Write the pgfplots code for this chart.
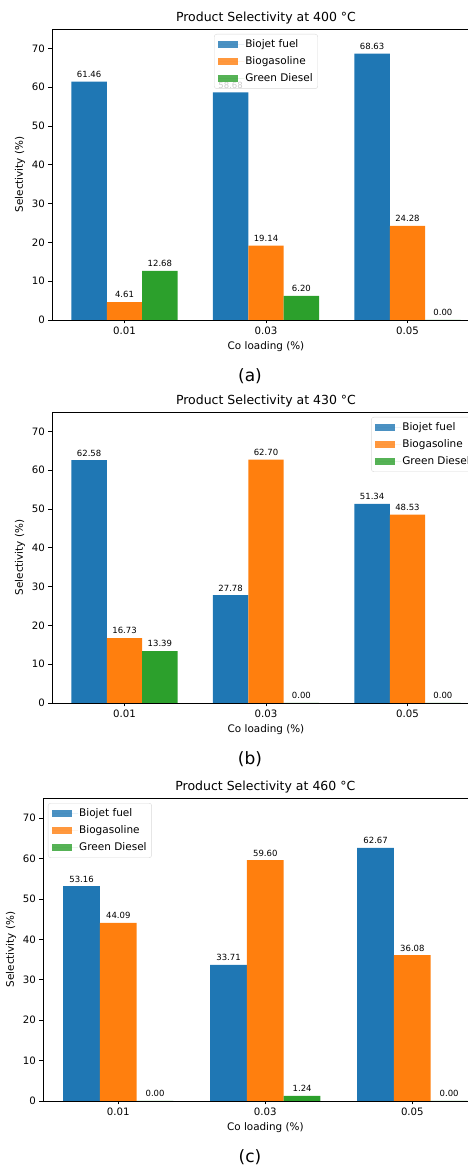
\documentclass[border=0pt]{standalone}
\usepackage{pgfplots}
\pgfplotsset{compat=1.18}
\usepackage{fontspec}
\setmainfont{DejaVu Sans}
\definecolor{c1}{HTML}{1F77B4}
\definecolor{c2}{HTML}{FF7F0E}
\definecolor{c3}{HTML}{2CA02C}

\pgfplotsset{
 selstyle/.style={
  scale only axis, width=428pt, height=291pt,
  xmin=-0.5125, xmax=2.5125, ymin=0, ymax=75,
  ybar, bar width=0.25,
  xtick={0,1,2}, xticklabels={0.01,0.03,0.05},
  ytick={0,10,...,70},
  tick align=outside, tick pos=left, major tick length=3.5pt,
  tick style={black, line width=0.8pt},
  axis line style={line width=0.8pt},
  /pgf/number format/assume math mode=true,
  ticklabel style={font=\fontsize{10.2}{12}\selectfont},
  label style={font=\fontsize{10.4}{12}\selectfont},
  title style={font=\fontsize{12.5}{14}\selectfont, yshift=-4.5pt},
  xlabel={Co loading (\%)}, ylabel={Selectivity (\%)},
  nodes near coords={\pgfmathprintnumber[fixed,fixed zerofill,precision=2]{\pgfplotspointmeta}},
  every node near coord/.append style={font=\fontsize{8.5}{10}\selectfont, black, yshift=0.5pt},
  legend image code/.code={\fill[##1, sharp corners] (0pt,-3.6pt) rectangle (20pt,3.6pt);
     \path (0pt,0pt) -- (26pt,0pt);},
  legend cell align=left,
  legend style={font=\fontsize{10.5}{12}\selectfont, draw=black!15, rounded corners=2.5pt,
    fill=white, fill opacity=0.8, text opacity=1, draw opacity=1,
    inner xsep=4pt, inner ysep=4pt, row sep=4.5pt,
    nodes={inner sep=1pt, text height=8pt, text depth=2.5pt}},
 }
}

\begin{document}
\begin{tikzpicture}
\clip (0pt,0pt) rectangle (468pt,1169pt);

% ---------- (a) 400 C ----------
\begin{axis}[selstyle, at={(52pt,849pt)}, anchor=south west,
  title={Product Selectivity at 400 °C},
  legend style={at={(0.5,1)}, anchor=north, yshift=-5pt}]
\addplot[fill=c1, draw=none, bar shift=-0.25] coordinates {(0,61.46) (1,58.68) (2,68.63)};
\addplot[fill=c2, draw=none, bar shift=0] coordinates {(0,4.61) (1,19.14) (2,24.28)};
\addplot[fill=c3, draw=none, bar shift=0.25] coordinates {(0,12.68) (1,6.20) (2,0.00)};
\legend{Biojet fuel, Biogasoline, Green Diesel}
\end{axis}

% ---------- (b) 430 C ----------
\begin{axis}[selstyle, at={(52pt,466pt)}, anchor=south west,
  title={Product Selectivity at 430 °C},
  legend style={at={(1,1)}, anchor=north east, xshift=-5pt, yshift=-5pt}]
\addplot[fill=c1, draw=none, bar shift=-0.25] coordinates {(0,62.58) (1,27.78) (2,51.34)};
\addplot[fill=c2, draw=none, bar shift=0] coordinates {(0,16.73) (1,62.70) (2,48.53)};
\addplot[fill=c3, draw=none, bar shift=0.25] coordinates {(0,13.39) (1,0.00) (2,0.00)};
\legend{Biojet fuel, Biogasoline, Green Diesel}
\end{axis}

% ---------- (c) 460 C ----------
\begin{axis}[selstyle, width=444.7pt, height=303pt, at={(43pt,68pt)}, anchor=south west,
  title={Product Selectivity at 460 °C},
  legend style={at={(0,1)}, anchor=north west, xshift=5pt, yshift=-5pt}]
\addplot[fill=c1, draw=none, bar shift=-0.25] coordinates {(0,53.16) (1,33.71) (2,62.67)};
\addplot[fill=c2, draw=none, bar shift=0] coordinates {(0,44.09) (1,59.60) (2,36.08)};
\addplot[fill=c3, draw=none, bar shift=0.25] coordinates {(0,0.00) (1,1.24) (2,0.00)};
\legend{Biojet fuel, Biogasoline, Green Diesel}
\end{axis}

\node[font=\fontsize{17}{20}\selectfont] at (250pt,793pt) {(a)};
\node[font=\fontsize{17}{20}\selectfont] at (250pt,410pt) {(b)};
\node[font=\fontsize{17}{20}\selectfont] at (250pt,12pt) {(c)};
\end{tikzpicture}
\end{document}
